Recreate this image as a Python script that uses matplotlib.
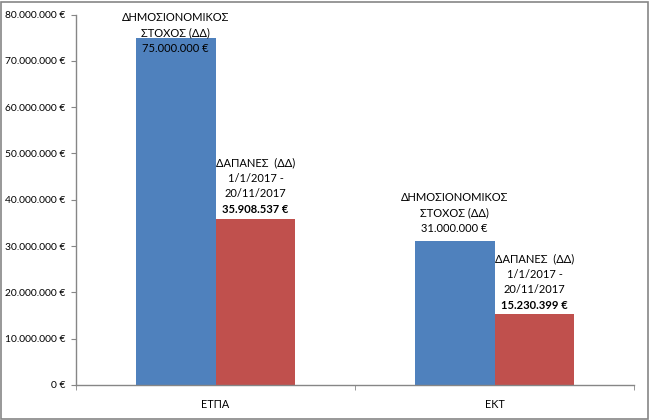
import matplotlib
matplotlib.use("Agg")
import matplotlib.pyplot as plt
from matplotlib.patches import Rectangle
from matplotlib.ticker import FuncFormatter, FixedLocator

categories = ["ΕΤΠΑ", "ΕΚΤ"]
target_values = [75000000, 31000000]
spend_values = [35908537, 15230399]
target_lines = ["ΔΗΜΟΣΙΟΝΟΜΙΚΟΣ", "ΣΤΟΧΟΣ (ΔΔ)"]
spend_lines = ["ΔΑΠΑΝΕΣ  (ΔΔ)", "1/1/2017 -", "20/11/2017"]
y_ticks = [0, 10000000, 20000000, 30000000, 40000000, 50000000, 60000000, 70000000, 80000000]
y_max = 80000000

BLUE = "#4F81BD"
RED = "#C0504D"
GRAY = "#868686"
FONT = ["Lato", "DejaVu Sans"]

plt.rcParams['font.family'] = FONT

def euro(v, pos=None):
    s = f"{int(round(v)):,}".replace(",", ".")
    return f"{s} €"

fig = plt.figure(figsize=(6.49, 4.20), dpi=100)
fig.patches.append(Rectangle((0.5/649, 1.5/420), 647/649, 417/420, transform=fig.transFigure,
                             fill=False, edgecolor=GRAY, linewidth=1.2))
ax = fig.add_axes([76/649, (420-385)/420, (634-76)/649, (385-14.5)/420])

w = 0.2867
xs = list(range(len(categories)))
ax.bar([x - w/2 for x in xs], target_values, width=w, color=BLUE, zorder=2)
ax.bar([x + w/2 for x in xs], spend_values, width=w, color=RED, zorder=2)

ax.set_ylim(0, y_max)
ax.set_xlim(-0.5, len(categories) - 0.5)
ax.yaxis.set_major_locator(FixedLocator(y_ticks))
ax.yaxis.set_major_formatter(FuncFormatter(euro))
ax.set_xticks(xs)
ax.set_xticklabels(categories)
ax.xaxis.set_minor_locator(FixedLocator([-0.5, 0.5, 1.5]))
ax.tick_params(axis='x', which='major', length=0, pad=10, labelsize=7.8)
ax.tick_params(axis='x', which='minor', length=3.6, color=GRAY, direction='out')
ax.tick_params(axis='y', length=3.6, color=GRAY, direction='out', labelsize=7.4, pad=4)
for s in ["top", "right"]:
    ax.spines[s].set_visible(False)
for s in ["left", "bottom"]:
    ax.spines[s].set_color(GRAY)
    ax.spines[s].set_linewidth(1)

fs = 8.0
pitch = 15.7

def put(text, x, y, dy, bold=False, clip=True):
    ax.annotate(text, xy=(x, y), xytext=(0, dy), textcoords="offset pixels",
                ha="center", va="baseline", fontsize=fs,
                fontweight="bold" if bold else "normal", annotation_clip=False)

for i, (t, sp) in enumerate(zip(target_values, spend_values)):
    xb = i - w/2
    lines = target_lines + [euro(t)]
    if t > 0.85 * y_max:
        # label does not fit above the bar: pinned to the top of the plot
        for k, ln in enumerate(lines):
            put(ln, xb, y_max, -6.5 - k * pitch)
    else:
        n = len(lines)
        for k, ln in enumerate(lines):
            put(ln, xb, t, 9.4 + (n - 1 - k) * pitch)
    xr = i + w/2
    put(euro(sp), xr, sp, 5.5, bold=True)
    n = len(spend_lines)
    for k, ln in enumerate(spend_lines):
        put(ln, xr, sp, 5.5 + (n - k) * pitch)

fig.savefig("out.png", dpi=100)
